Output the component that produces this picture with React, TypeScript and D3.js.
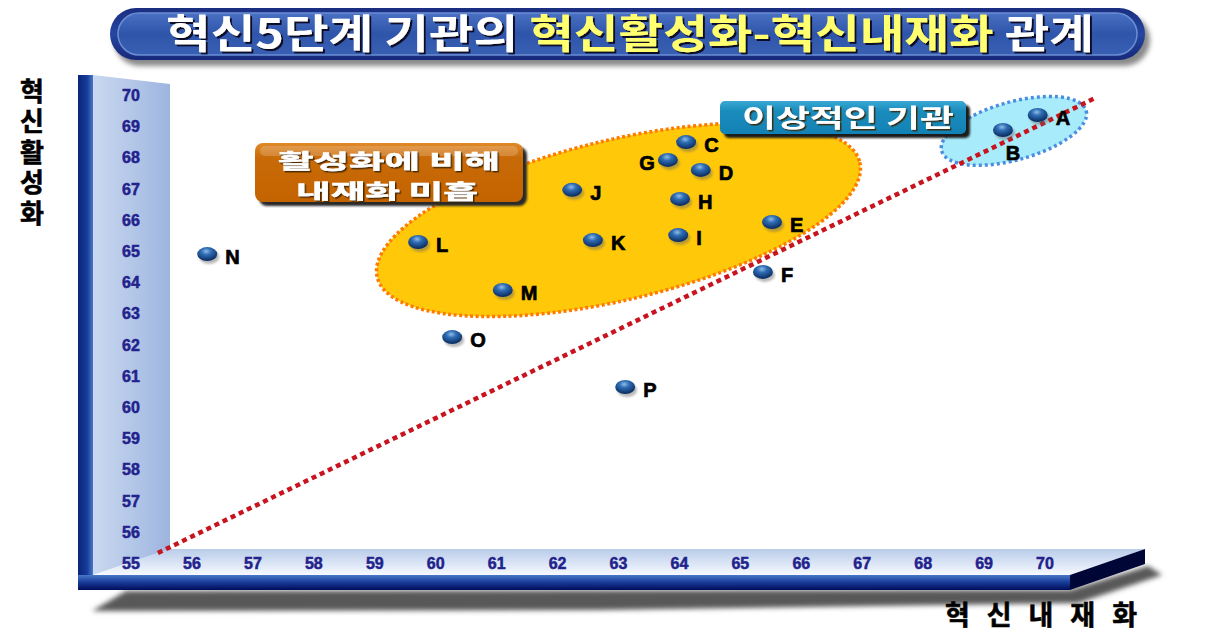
import React from "react";
import * as d3 from "d3";

// ---- data ----
const pointNames = ["A", "B", "C", "D", "E", "F", "G", "H", "I", "J", "K", "L", "M", "N", "O", "P"];
const internalization = [69.88, 69.31, 64.11, 64.35, 65.52, 65.37, 63.81, 64.01, 63.98, 62.24, 62.58, 59.71, 61.1, 56.25, 60.27, 63.11];
const activation = [69.36, 68.88, 68.49, 67.6, 65.93, 64.33, 67.92, 66.67, 65.51, 66.96, 65.35, 65.29, 63.75, 64.9, 62.24, 60.64];
const labelSide = ["r", "b", "r", "r", "r", "r", "l", "r", "r", "r", "r", "r", "r", "r", "r", "r"];
const xTicks = [56, 57, 58, 59, 60, 61, 62, 63, 64, 65, 66, 67, 68, 69, 70];
const yTicks = [55, 56, 57, 58, 59, 60, 61, 62, 63, 64, 65, 66, 67, 68, 69, 70];
const diagonalX = [55.44, 70.82];
const diagonalY = [55.32, 69.9];
const groupCenterX = [63.0, 69.49];
const groupCenterY = [66.0, 68.85];

const titleWhite1 = "혁신5단계 기관의 ";
const titleYellow = "혁신활성화-혁신내재화";
const titleWhite2 = " 관계";
const yTitle = "혁신활성화";
const xTitle = "혁신내재화";
const boxText1 = ["활성화에 비해", "내재화 미흡"];
const boxText2 = "이상적인 기관";

const W = 1228;
const H = 633;
const KR = "'Noto Sans CJK KR', 'Noto Sans', sans-serif";
const LAT = "'Liberation Sans', Arial, sans-serif";

export default function App() {
  const x = d3.scaleLinear().domain([56, 70]).range([192, 1045]);
  const y = d3.scaleLinear().domain([55, 70]).range([563, 95]);

  const diag = d3.line<number>()
    .x((_, i) => x(diagonalX[i]))
    .y((_, i) => y(diagonalY[i]))([0, 1]) as string;

  return (
    <svg width={W} height={H} style={{ position: "absolute", left: 0, top: 0, display: "block", background: "#fff" }}
      xmlns="http://www.w3.org/2000/svg">
      <defs>
        <linearGradient id="titleG" x1="0" y1="0" x2="0" y2="1">
          <stop offset="0" stopColor="#1a2e80" />
          <stop offset="0.5" stopColor="#2646a0" />
          <stop offset="1" stopColor="#16287a" />
        </linearGradient>
        <linearGradient id="titleInner" x1="0" y1="0" x2="0" y2="1">
          <stop offset="0" stopColor="#4a70c4" />
          <stop offset="0.5" stopColor="#2f55aa" />
          <stop offset="1" stopColor="#3a60b4" />
        </linearGradient>
        <linearGradient id="panelG" x1="0" y1="0" x2="1" y2="0">
          <stop offset="0" stopColor="#cad9f0" />
          <stop offset="1" stopColor="#9db5df" />
        </linearGradient>
        <linearGradient id="stripG" x1="0" y1="0" x2="1" y2="0">
          <stop offset="0" stopColor="#0a2478" />
          <stop offset="0.6" stopColor="#163c9a" />
          <stop offset="1" stopColor="#4a78c8" />
        </linearGradient>
        <linearGradient id="floorG" x1="0" y1="0" x2="0" y2="1">
          <stop offset="0" stopColor="#b9cce9" />
          <stop offset="1" stopColor="#f6f9ff" />
        </linearGradient>
        <linearGradient id="barG" x1="0" y1="0" x2="0" y2="1">
          <stop offset="0" stopColor="#4a78c8" />
          <stop offset="0.45" stopColor="#1a3f9c" />
          <stop offset="1" stopColor="#000c5a" />
        </linearGradient>
        <linearGradient id="orangeG" x1="0" y1="0" x2="0" y2="1">
          <stop offset="0" stopColor="#e08a2a" />
          <stop offset="0.25" stopColor="#c86a08" />
          <stop offset="1" stopColor="#c46400" />
        </linearGradient>
        <linearGradient id="tealG" x1="0" y1="0" x2="0" y2="1">
          <stop offset="0" stopColor="#3aa8d4" />
          <stop offset="0.3" stopColor="#1a8cbc" />
          <stop offset="1" stopColor="#1282b4" />
        </linearGradient>
        <radialGradient id="dotG" cx="0.45" cy="0.3" r="0.7">
          <stop offset="0" stopColor="#8fbce8" />
          <stop offset="0.35" stopColor="#2f6db4" />
          <stop offset="1" stopColor="#08285c" />
        </radialGradient>
        <filter id="blur2" x="-10%" y="-50%" width="120%" height="200%">
          <feGaussianBlur stdDeviation="2.5" />
        </filter>
        <filter id="blur1" x="-20%" y="-50%" width="140%" height="200%">
          <feGaussianBlur stdDeviation="1.2" />
        </filter>
        <filter id="tshadow" x="-5%" y="-20%" width="110%" height="150%">
          <feDropShadow dx="2" dy="2" stdDeviation="0.4" floodColor="#08082a" floodOpacity="1" />
        </filter>
        <filter id="bshadow" x="-5%" y="-20%" width="110%" height="150%">
          <feDropShadow dx="1.5" dy="1.5" stdDeviation="0.3" floodColor="#3a2000" floodOpacity="0.9" />
        </filter>
      </defs>

      {/* Title */}
      <rect x={114} y={14} width={1036} height={52} rx={26} fill="#8a8a8a" filter="url(#blur2)" />
      <rect x={110} y={8} width={1035} height={52} rx={26} fill="url(#titleG)" />
      <rect x={118} y={13} width={1019} height={42} rx={21} fill="url(#titleInner)" stroke="#6a8ed4" strokeWidth={1.5} />
      <text x={166} y={48} textLength={928} lengthAdjust="spacingAndGlyphs" fontFamily={KR} fontWeight={700} fontSize={40}
        filter="url(#tshadow)">
        <tspan fill="#ffffff">{titleWhite1}</tspan>
        <tspan fill="#ffff70">{titleYellow}</tspan>
        <tspan fill="#ffffff">{titleWhite2}</tspan>
      </text>

      {/* y-axis title (vertical writing) */}
      <text x={32} y={78} style={{ writingMode: "vertical-rl", textOrientation: "upright" } as any}
        letterSpacing={4.5} fontFamily={KR} fontWeight={700} fontSize={26} fill="#000" stroke="#000" strokeWidth={0.6}>{yTitle}</text>

      {/* shadow under floor */}
      <polygon points="92,611 126,591 1070,590 1148,566 1162,575 1078,603 600,610" fill="#585858" filter="url(#blur2)" />

      {/* x-axis title */}
      <text x={945} y={625} textLength={192} lengthAdjust="spacing" fontFamily={KR} fontWeight={700} fontSize={27} fill="#000"
        stroke="#000" strokeWidth={0.6}>{xTitle}</text>

      {/* y wall panel */}
      <polygon points="93,75 170,84 170,549 93,575" fill="url(#panelG)" />
      <rect x={78} y={75} width={15} height={515} fill="url(#stripG)" />
      {/* floor */}
      <polygon points="93,575 170,549 1145,549 1070,575" fill="url(#floorG)" />
      <rect x={78} y={575} width={992} height={15} fill="url(#barG)" />
      <polygon points="1070,575 1145,549 1145,564 1070,590" fill="#000636" />

      {/* y ticks */}
      {yTicks.map((t) => (
        <text key={t} x={131} y={y(t) + 6} textAnchor="middle" fontFamily={LAT} fontWeight={700} fontSize={16}
          fill="#22228c" stroke="#22228c" strokeWidth={0.5}>{t}</text>
      ))}
      {/* x ticks */}
      {xTicks.map((t) => (
        <text key={t} x={x(t)} y={569} textAnchor="middle" fontFamily={LAT} fontWeight={700} fontSize={16}
          fill="#22228c" stroke="#22228c" strokeWidth={0.5}>{t}</text>
      ))}

      {/* group ellipses */}
      <ellipse cx={x(groupCenterX[0])} cy={y(groupCenterY[0])} rx={248} ry={80}
        transform={`rotate(-13.4 ${x(groupCenterX[0])} ${y(groupCenterY[0])})`}
        fill="#ffc808" stroke="#ff7a00" strokeWidth={3.5} strokeDasharray="3 2.5" />
      <ellipse cx={x(groupCenterX[1])} cy={y(groupCenterY[1])} rx={75} ry={29}
        transform={`rotate(-15.5 ${x(groupCenterX[1])} ${y(groupCenterY[1])})`}
        fill="#a8ecfc" stroke="#4a8ee0" strokeWidth={3.5} strokeDasharray="3 3" />

      {/* diagonal */}
      <path d={diag} fill="none" stroke="#c8141e" strokeWidth={4.5} strokeDasharray="5 4" />

      {/* annotation boxes */}
      <rect x={259} y={147} width={268} height={59} rx={8} fill="#2a2a2a" filter="url(#blur1)" />
      <rect x={255} y={143} width={268} height={59} rx={8} fill="url(#orangeG)" />
      <rect x={260} y={146} width={258} height={10} rx={5} fill="#ffffff" opacity={0.18} />
      <text x={278} y={168.5} textLength={222} lengthAdjust="spacingAndGlyphs" fontFamily={KR} fontWeight={700} fontSize={20.5}
        fill="#ffffff" stroke="#ffffff" strokeWidth={0.5} filter="url(#bshadow)">{boxText1[0]}</text>
      <text x={296} y={198.5} textLength={182} lengthAdjust="spacingAndGlyphs" fontFamily={KR} fontWeight={700} fontSize={20.5}
        fill="#ffffff" stroke="#ffffff" strokeWidth={0.5} filter="url(#bshadow)">{boxText1[1]}</text>
      <rect x={724} y={105} width={246} height={33} rx={5} fill="#1a1a1a" filter="url(#blur1)" />
      <rect x={720} y={101} width={246} height={33} rx={5} fill="url(#tealG)" />
      <text x={742} y={127} textLength={212} lengthAdjust="spacingAndGlyphs" fontFamily={KR} fontWeight={700} fontSize={25}
        fill="#ffffff" filter="url(#bshadow)">{boxText2}</text>

      {/* points */}
      {pointNames.map((n, i) => {
        const px = x(internalization[i]);
        const py = y(activation[i]);
        const side = labelSide[i];
        const lx = side === "r" ? px + 18 : side === "l" ? px - 13 : px + 10;
        const ly = side === "b" ? py + 30 : py + 10;
        const anchor = side === "r" ? "start" : side === "l" ? "end" : "middle";
        return (
          <g key={n}>
            <ellipse cx={px + 2} cy={py + 3} rx={10} ry={7} fill="#666" opacity={0.45} filter="url(#blur1)" />
            <ellipse cx={px} cy={py} rx={10} ry={7} fill="url(#dotG)" />
            <text x={lx} y={ly} textAnchor={anchor} fontFamily={LAT} fontWeight={700} fontSize={20} fill="#000"
              stroke="#000" strokeWidth={0.7}>{n}</text>
          </g>
        );
      })}
    </svg>
  );
}
